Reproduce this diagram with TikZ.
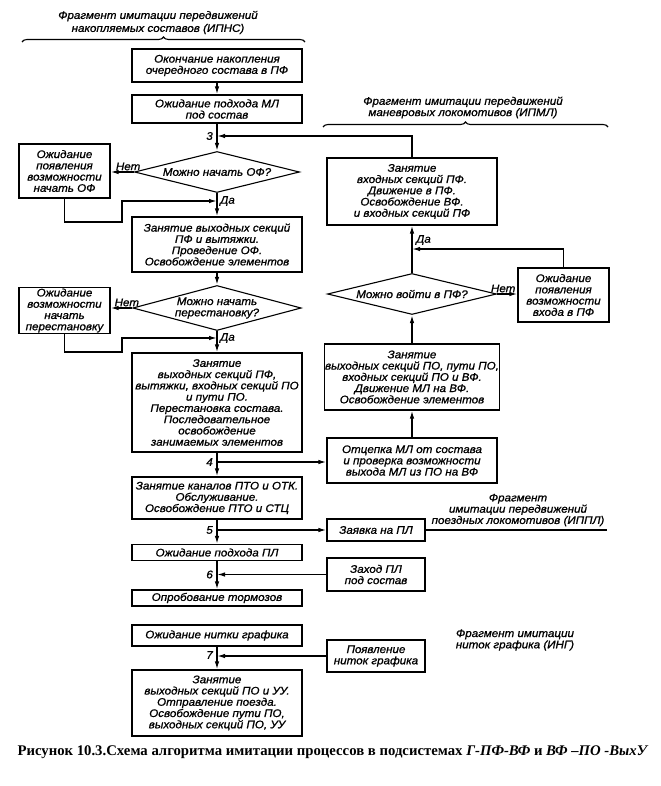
\documentclass[tikz,border=0pt]{standalone}
\usepackage{fontspec}
\newfontfamily\gostfont[FakeStretch=1.06,FakeBold=1]{Liberation Sans}
\newfontfamily\capfont{Liberation Serif}
\usetikzlibrary{arrows.meta,shapes.geometric,decorations.pathreplacing}

\begin{document}
\begin{tikzpicture}[x=1bp, y=-1bp,
    txt/.style={font=\gostfont\itshape\fontsize{11}{11.3}\selectfont, align=center},
    box/.style={txt, draw, line width=1.1bp, minimum width=170bp, inner sep=1bp},
    sbox/.style={box, minimum width=91bp},
    rbox/.style={box, minimum width=98bp},
    dec/.style={txt, draw, diamond, aspect=4, line width=1.1bp, inner sep=0pt},
    arrow/.style={-{Latex[length=8bp,width=4.5bp]}, line width=1.4bp},
    wire/.style={line width=1.4bp},
    lbl/.style={txt, inner sep=1bp},
    brc/.style={decorate, decoration={brace, amplitude=5bp}, line width=1.1bp},
  ]
  \useasboundingbox (0,0) rectangle (661,786);

  % Headers
  \node[txt, font=\gostfont\itshape\fontsize{11}{13}\selectfont] (hipns) at (158,22.5)
    {Фрагмент имитации передвижений\\накопляемых составов (ИПНС)};
  \draw[brc] (22,42) -- (305,42);
  \node[txt] (hipml) at (463,107.5) {Фрагмент имитации передвижений\\маневровых локомотивов (ИПМЛ)};
  \draw[brc] (323,127) -- (608,127);
  \node[txt] (hippl) at (518,510) {Фрагмент\\имитации передвижений\\поездных локомотивов (ИППЛ)};
  \node[txt] (hing) at (515,640) {Фрагмент имитации\\ниток графика (ИНГ)};

  % Main column
  \node[box, minimum height=33bp] (accum) at (217,65.5) {Окончание накопления\\очередного состава в ПФ};
  \node[box, minimum height=28bp] (waitml) at (217,109) {Ожидание подхода МЛ\\под состав};
  \node[dec, minimum width=165bp, minimum height=41bp] (canof) at (217,172) {Можно начать ОФ?};
  \node[sbox, minimum height=54bp] (waitof) at (64.5,171) {Ожидание\\появления\\возможности\\начать ОФ};
  \node[box, minimum height=55bp] (doof) at (217,244.5) {Занятие выходных секций\\ПФ и вытяжки.\\Проведение ОФ.\\Освобождение элементов};
  \node[dec, minimum width=167bp, minimum height=45bp] (canper) at (217,308) {Можно начать\\перестановку?};
  \node[sbox, minimum height=45bp] (waitper) at (64.5,310.5) {Ожидание\\возможности\\начать\\перестановку};
  \node[box, minimum height=99bp] (doper) at (217,402.5) {Занятие\\выходных секций ПФ,\\вытяжки, входных секций ПО\\и пути ПО.\\Перестановка состава.\\Последовательное\\освобождение\\занимаемых элементов};
  \node[box, minimum height=42bp] (pto) at (217,498) {Занятие каналов ПТО и ОТК.\\Обслуживание.\\Освобождение ПТО и СТЦ};
  \node[box, minimum height=16bp] (waitpl) at (217,552.5) {Ожидание подхода ПЛ};
  \node[box, minimum height=16bp] (brake) at (217,598) {Опробование тормозов};
  \node[box, minimum height=21bp] (waitnit) at (217,635.5) {Ожидание нитки графика};
  \node[box, minimum height=66bp] (depart) at (217,703) {Занятие\\выходных секций ПО и УУ.\\Отправление поезда.\\Освобождение пути ПО,\\выходных секций ПО, УУ};

  % Right column
  \node[box, minimum height=67bp] (enterpf) at (412,191.5) {Занятие\\входных секций ПФ.\\Движение в ПФ.\\Освобождение ВФ.\\и входных секций ПФ};
  \node[dec, minimum width=169bp, minimum height=41bp] (canin) at (412,294) {Можно войти в ПФ?};
  \node[sbox, minimum height=54bp] (waitin) at (563.5,295) {Ожидание\\появления\\возможности\\входа в ПФ};
  \node[box, minimum height=66bp] (movevf) at (412,377) {Занятие\\выходных секций ПО, пути ПО,\\входных секций ПО и ВФ.\\Движение МЛ на ВФ.\\Освобождение элементов};
  \node[box, minimum height=45bp] (uncouple) at (412,460.5) {Отцепка МЛ от состава\\и проверка возможности\\выхода МЛ из ПО на ВФ};
  \node[rbox, minimum height=22bp] (reqpl) at (376,530) {Заявка на ПЛ};
  \node[rbox, minimum height=33bp] (arrpl) at (376,574.5) {Заход ПЛ\\под состав};
  \node[rbox, minimum height=32bp] (thread) at (376,656) {Появление\\ниток графика};

  % Junctions
  \coordinate (j3) at (217,136);
  \coordinate (j4) at (217,462);
  \coordinate (j5) at (217,530);
  \coordinate (j6) at (217,574.5);
  \coordinate (j7) at (217,655);
  \coordinate (da1) at (217,201);
  \coordinate (da2) at (217,338);
  \coordinate (da3) at (412,249);
  \coordinate (ippl) at (607,530);
  \foreach \j in {3,...,7}
    \node[lbl, anchor=east] (n\j) at ([xshift=-3bp]j\j) {\j};

  % Main flow
  \draw[arrow] (accum) -- (waitml);
  \draw[arrow] (waitml) -- (canof);
  \draw[arrow] (canof.west) -- (canof.west -| waitof.east) node[pos=0.25, above, lbl] {Нет};
  \draw[arrow] (waitof.south) |- (122,222) |- (da1);
  \node[lbl, anchor=west] (yes1) at ([xshift=2bp]da1) {Да};
  \draw[arrow] (canof) -- (doof);
  \draw[arrow] (doof) -- (canper);
  \draw[arrow] (canper.west) -- (canper.west -| waitper.east) node[pos=0.25, above, lbl] {Нет};
  \draw[arrow] (waitper.south) |- (122,352) |- (da2);
  \node[lbl, anchor=west] (yes2) at ([xshift=2bp]da2) {Да};
  \draw[arrow] (canper) -- (doper);
  \draw[arrow] (doper) -- (pto);
  \draw[arrow] (pto) -- (waitpl);
  \draw[arrow] (waitpl) -- (brake);
  \draw[arrow] (waitnit) -- (depart);

  % Links between columns
  \draw[arrow] (enterpf.north) |- (j3);
  \draw[arrow] (j4) -- (j4 -| uncouple.west);
  \draw[arrow] (j5) -- (j5 -| reqpl.west);
  \draw[wire] (reqpl.east) -- (ippl);
  \draw[arrow] (arrpl.west) -- (arrpl.west -| j6);
  \draw[arrow] (thread.west) -- (thread.west -| j7);

  % Right flow
  \draw[arrow] (uncouple) -- (movevf);
  \draw[arrow] (movevf) -- (canin);
  \draw[arrow] (canin) -- (enterpf);
  \node[lbl, anchor=west] (yes3) at (415,240) {Да};
  \draw[arrow] (canin.east) -- (canin.east -| waitin.west) node[pos=0.3, above, lbl] {Нет};
  \draw[arrow] (waitin.north) |- (da3);

  % Caption
  \node[font=\capfont\bfseries\fontsize{14.8}{16}\selectfont] (caption) at (333,752)
    {Рисунок 10.3.Схема алгоритма имитации процессов в подсистемах \textit{Г-ПФ-ВФ} и \textit{ВФ –ПО -ВыхУ}};
\end{tikzpicture}
\end{document}
